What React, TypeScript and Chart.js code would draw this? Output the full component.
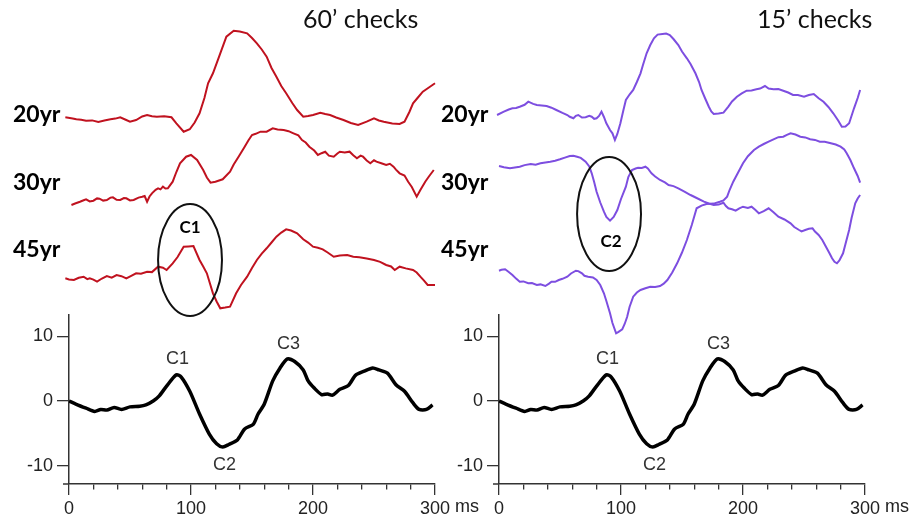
import React, { useEffect, useRef } from 'react';
import { Chart, registerables } from 'chart.js';

Chart.register(...registerables);

// ---------- data ----------
const TIME_TICKS = [0, 20, 40, 60, 80, 100, 120, 140, 160, 180, 200, 220, 240, 260, 280, 300];
const AMP_TICKS = [-10, 0, 10];
const AGE_LABELS = ['20yr', '30yr', '45yr'];
const PANEL_TITLES = ['60\u2019 checks', '15\u2019 checks'];

// grand-average waveform (µV vs ms), same in both panels
const GRAND_AVG: [number, number][] = [
  [0, 0], [6, -0.5], [14, -1.1], [21, -1.6], [26, -1.3], [31, -1.4], [37, -1.0], [43, -1.3], [50, -0.9],
  [58, -0.8], [63, -0.6], [69, 0], [74, 0.8], [80, 2.3], [88, 4.05], [92, 3.7], [99, 1.5], [107, -2.0],
  [115, -5.1], [121, -6.6], [126, -7.1], [131, -6.7], [138, -6.0], [144, -4.3], [151, -3.6], [155, -2.0],
  [160, -0.5], [167, 3.1], [173, 5.1], [179, 6.5], [185, 6.1], [192, 4.8], [196, 3.1], [201, 2.0],
  [207, 1.0], [212, 1.1], [216, 0.9], [222, 1.8], [229, 2.4], [235, 4.0], [242, 4.6], [249, 5.1],
  [254, 4.8], [261, 4.3], [268, 2.5], [275, 1.5], [282, -0.3], [287, -1.3], [293, -1.3], [298, -0.6],
];
const PEAK_LABELS = ['C1', 'C2', 'C3'];
const PEAK_LABEL_T = [89, 127.5, 180];
const PEAK_LABEL_V = [5.65, -10.7, 8.1];

// individual traces (offset amplitude, a.u.) — 60' checks
const LEFT_20YR: [number, number][] = [
  [-3, 202.7], [3, 201.5], [6, 200.7], [10, 200.2], [14, 199.3], [19, 199.6], [24, 198], [29, 199.5], [34, 200.7],
  [38, 201.4], [42, 202.7], [46, 200.5], [50, 198.3], [55, 200], [60, 203.5],
  [64, 205], [68, 203.8], [72, 203.3], [78, 203.8], [84, 202.7], [88, 196.7], [94, 188.3], [99, 190.7], [103, 197.5], [107, 206.7], [111, 222], [114, 236.7],
  [118, 246.7], [124, 266.7], [129, 283.3], [135, 289.3], [140, 288.5], [146, 286.7], [150, 282], [154, 276.7], [158, 270.5], [162, 263.3],
  [166, 252], [170, 243.3], [174, 234], [178, 226.7], [183, 217], [187, 210], [192, 203.3], [196, 204], [200, 205], [206, 207.3], [210, 206], [214, 205], [219, 202.5], [225, 200],
  [231, 197], [237, 195], [244, 198.3], [250, 201.7], [254, 199.5], [258, 198.3], [265, 196.5], [271, 196], [275, 198.3], [279, 208], [282, 216.7],
  [286, 222.5], [290, 228.3], [295, 232.5], [300, 236.7],
];
const LEFT_30YR: [number, number][] = [
  [2, 115], [5, 116.5], [9, 118.3], [12, 119.8], [14, 120.7], [17, 118.6], [20, 119.3], [23, 121.6], [25, 121.3], [28, 119.4], [31, 120], [34, 122.4], [36, 122.7], [39, 120.2], [42, 120],
  [45, 122], [47, 121.7], [50, 119.6], [53, 120], [57, 122.4], [60, 123.3], [62, 124], [64, 118.3], [66, 123.5], [68, 126.7], [71, 130.2], [73, 131.7], [75, 130.6], [77, 133.3], [79, 131.5], [81, 131.7],
  [85, 138.3], [88, 148], [91, 156.7], [96, 163.3], [100, 165], [105, 160], [110, 150], [113, 142.5], [116, 137.3], [120, 138.3],
  [126, 140.7], [132, 148.3], [135, 155.5], [139, 163.3], [144, 173.3], [147, 179.5], [150, 185], [153, 186.2], [157, 188.3], [162, 188.3],
  [167, 191.7], [171, 190.5], [176, 190], [180, 188.8], [184, 186.7], [188, 184.6], [191, 180], [194, 177.5], [197, 173.3], [201, 169.5], [204, 165], [207, 166.8], [210, 168.3], [213, 164.3],
  [217, 163.3], [220, 166.5], [222, 168.3], [226, 167.4], [230, 168.3], [233, 164.7], [236, 161.7], [239, 164.4], [241, 163.3], [244, 159.5], [247, 156.7], [250, 159.7], [252, 158.3],
  [256, 156.8], [260, 155], [263, 156.2], [266, 153.3], [268, 150.4], [271, 146.7], [275, 144.5], [278, 138.3], [281, 133], [285, 123.3], [288, 130], [292, 138.3], [295, 143.5], [299, 150],
];
const LEFT_45YR: [number, number][] = [
  [-3, 41.7], [0, 40.6], [4, 40], [8, 42.2], [12, 43.3], [15, 40.8], [17, 41.7], [20, 40.4], [23, 38.3], [27, 41.5], [31, 44], [35, 42.3], [39, 45], [43, 43.8], [47, 41.7], [51, 44.2], [55, 46.7],
  [59, 46.2], [64, 48.3], [68, 47.9], [73, 53.3], [77, 52.3], [80, 50], [85, 56.7], [89, 63], [94, 73.3], [98, 73.6], [102, 74], [107, 60], [110, 53.5], [113, 46.7],
  [118, 26.7], [121, 18.5], [124, 11.7], [128, 12.4], [132, 13.3], [137, 26.7], [141, 35], [146, 43.3], [150, 52], [154, 60], [158, 66.4], [162, 71.7], [166, 77.5], [170, 83.3],
  [174, 87.4], [178, 90.7], [182, 89.5], [187, 86.7], [192, 80.7], [196, 77.4], [200, 73.3], [204, 72.2], [208, 70.7], [212, 67.5], [217, 63.3], [222, 64.6], [228, 65], [233, 63.2], [238, 62.7],
  [244, 61.5], [250, 60], [255, 58.1], [260, 55], [264, 53.5], [267, 50], [271, 53.3], [276, 51.6], [282, 50], [285, 47.5], [288, 43.3], [291, 39.4], [294, 35], [300, 35],
];

// individual traces — 15' checks
const RIGHT_20YR: [number, number][] = [
  [-1.6, 205], [4, 208.3], [8, 210.5], [11, 211.7], [14, 212.1], [17, 213.3], [21, 215.2], [24, 218.3], [28, 216.1], [31, 215], [35, 214.6], [39, 214], [43, 212.3], [47, 210],
  [52, 207.1], [56, 205], [58, 203.2], [61, 201.7], [63, 204.2], [65, 205], [68, 202.5], [71, 202.7], [74, 204.1], [76, 203.3], [78, 201.2], [80, 201.7], [82, 204], [84, 208.3], [86, 203], [88, 196.7],
  [91, 190], [93, 186.7], [95, 180], [97, 186], [99.5, 196.7], [102, 210], [104, 220], [107, 225.5], [110, 230], [113, 238], [116, 246.7], [118, 255], [121, 266.7], [124, 275], [127, 281.7],
  [130, 285.4], [134, 286], [137, 286.4], [140, 285], [143, 281], [147, 275], [150, 268.5], [154, 261.7], [157, 256], [161, 246.7], [164, 238], [166, 230], [169, 221.5], [172, 213.3], [174, 208.5], [176, 206],
  [180, 206.4], [184, 207.3], [188, 213.3], [191, 218.5], [195, 223.3], [199, 226.6], [203, 229.3], [207, 229.6], [211, 230.7], [214, 231.4], [218, 234], [221, 231.5], [225, 230.7], [229, 230.9],
  [233, 229.3], [237, 227.5], [241, 225], [245, 224.9], [250, 223.3], [254, 225], [258, 226], [262, 221.8], [266, 218.3], [270, 213], [274, 206.7], [278, 199.5], [281, 193.3],
  [284, 193.5], [287, 196.7], [291, 211.7], [294, 222], [296, 230],
];
const RIGHT_30YR: [number, number][] = [
  [0, 154], [4, 152.8], [9, 151.7], [13, 152.6], [17, 153.3], [21, 154.9], [26, 156], [30, 155.3], [34, 156.7], [38, 157.6], [42, 158.3], [46, 159.2], [50, 160.7], [54, 162.4], [58, 164],
  [61, 164.3], [64, 163.3], [67, 162.1], [71, 158.3], [74, 153.5], [76, 146.7], [78, 138], [80, 128.3], [83, 117.5], [86, 108.3], [88, 103], [91, 99.3], [94, 103], [97, 110], [100, 121], [104, 133.3],
  [106, 143], [109, 150], [112, 151.5], [114, 152.3], [117, 152.1], [120, 153.3], [122, 151.5], [125, 146.7], [128, 143.5], [132, 140], [136, 137.6], [139, 135], [143, 133.9], [147, 131.7], [152, 128.4], [157, 125],
  [162, 122], [168, 118.3], [172, 116.5], [176, 115], [180, 115.4], [184, 117.3], [186, 114], [188, 111.7], [191, 110.8], [194, 109.3], [197, 111.6], [200, 113.3], [204, 112], [207, 113.3], [210, 110.2],
  [213, 106.7], [217, 108.8], [221, 111.7], [225, 107.8], [229, 103.3], [234, 100.5], [239, 96.7], [242, 93], [246, 90], [248, 88.6], [251, 90], [254, 91.2], [257, 91.7], [259, 88.5], [262, 85],
  [265, 80], [268, 73.3], [271, 66.5], [273, 61.7], [275, 58.2], [277, 56.7], [279, 59.5], [282, 66.7], [284, 76], [287, 90], [289, 102], [292, 116.7], [294, 121.5], [296, 125],
];
const RIGHT_45YR: [number, number][] = [
  [0, 49.3], [2, 50.2], [5, 50.7], [8, 48], [11, 45], [14, 41.4], [17, 38.3], [20, 38.6], [24, 36.7], [27, 36.9], [31, 35], [34, 35.6], [38, 34], [41, 36.4], [43, 38.3], [46, 38.2], [49, 40],
  [52, 41.2], [56, 43.3], [59, 46.5], [63, 49.3], [65, 48.9], [68, 46.7], [70, 44.2], [73, 43.3], [77, 42.5], [80, 40], [83, 35], [86, 26.7], [88, 19], [91, 6.7], [93, -3], [96, -13.3],
  [98, -11.8], [101, -9.3], [103, -4], [105, 3], [107, 13], [110, 23.3], [113, 27.5], [116, 30], [120, 31.7], [124, 33.3], [128, 33.1], [132, 34], [135, 36.3], [138, 40], [142, 47.5], [146, 56.7],
  [150, 67.5], [154, 80], [158, 95], [162, 111.7], [166, 114.4], [170, 116], [176, 116.4], [181, 118.3], [184, 119.6], [187, 123.3], [189, 130], [192, 138.3], [196, 147.5], [200, 156.7],
  [204, 163.8], [209, 170], [213, 173.4], [217, 176], [221, 178.4], [225, 180.7], [229, 182.8], [233, 183.3], [236, 185.2], [239, 186.7], [243, 185.5], [247, 183.3], [251, 182.6], [255, 180.7],
  [259, 180.1], [263, 178.3], [267, 178.2], [272, 176.7], [276, 175.5], [280, 173.3], [283, 170.5], [285, 166.7], [288, 160], [291, 151.7], [294, 144], [296, 137.3],
];

const RED = '#c0121f';
const PURPLE = '#7d4ee0';

// ---------- chart builders ----------
type TopCfg = {
  traces: [number, number][][];
  color: string;
  title: string;
  titleX: number;
  labelX: number;
  ellipse: { t: number; v: number; rt: number; rv: number };
  circled: { text: string; t: number; v: number };
};

function makeTopChart(canvas: HTMLCanvasElement, cfg: TopCfg) {
  const overlay = {
    id: 'topOverlay',
    afterDatasetsDraw(chart: any) {
      const { ctx } = chart;
      const x = chart.scales.x;
      const y = chart.scales.y;
      ctx.save();
      ctx.fillStyle = '#000';
      ctx.font = 'bold 23px Lato';
      ctx.textAlign = 'left';
      ctx.textBaseline = 'alphabetic';
      const baselines = [122, 190, 257];
      AGE_LABELS.forEach((lab, i) => ctx.fillText(lab, cfg.labelX, baselines[i]));
      ctx.fillStyle = '#111';
      ctx.font = '25px Lato';
      ctx.fillText(cfg.title, cfg.titleX, 28);
      // ellipse
      const e = cfg.ellipse;
      const cx = x.getPixelForValue(e.t);
      const cy = y.getPixelForValue(e.v);
      const rx = Math.abs(x.getPixelForValue(e.t + e.rt) - cx);
      const ry = Math.abs(y.getPixelForValue(e.v + e.rv) - cy);
      ctx.beginPath();
      ctx.ellipse(cx, cy, rx, ry, 0, 0, Math.PI * 2);
      ctx.lineWidth = 2;
      ctx.strokeStyle = '#111';
      ctx.stroke();
      ctx.font = 'bold 17px Lato';
      ctx.textAlign = 'center';
      ctx.fillStyle = '#000';
      ctx.fillText(cfg.circled.text, x.getPixelForValue(cfg.circled.t), y.getPixelForValue(cfg.circled.v));
      ctx.restore();
    },
  };
  return new Chart(canvas, {
    type: 'line',
    data: {
      datasets: cfg.traces.map((tr, i) => ({
        label: AGE_LABELS[i],
        data: tr.map(([t, v]) => ({ x: t, y: v })),
        borderColor: cfg.color,
        borderWidth: 2,
        pointRadius: 0,
        tension: 0,
        fill: false,
      })),
    },
    options: {
      animation: false,
      responsive: false,
      devicePixelRatio: 1,
      events: [],
      layout: { padding: { left: 56.8, right: 39.8, top: 0, bottom: 0 } },
      plugins: { legend: { display: false }, tooltip: { enabled: false } },
      scales: {
        x: { type: 'linear', min: -10, max: 310, display: false },
        y: { type: 'linear', min: -30, max: 320, display: false },
      },
    },
    plugins: [overlay],
  } as any);
}

function makeBottomChart(canvas: HTMLCanvasElement, yAxisWidth: number, padRight: number) {
  const tickFont = { family: 'Liberation Sans', size: 18 };
  const X_TICK_LEN = 11;
  const X_TICK_PAD = 3;
  const overlay = {
    id: 'bottomOverlay',
    afterDraw(chart: any) {
      const { ctx } = chart;
      const x = chart.scales.x;
      const y = chart.scales.y;
      ctx.save();
      // x axis line extends slightly left of the y axis
      ctx.strokeStyle = '#333';
      ctx.lineWidth = 1.5;
      ctx.beginPath();
      ctx.moveTo(chart.chartArea.left - 6, chart.chartArea.bottom);
      ctx.lineTo(chart.chartArea.left, chart.chartArea.bottom);
      ctx.stroke();
      ctx.font = '18px "Liberation Sans"';
      // unit after the last tick label
      const lastX = x.getPixelForValue(300);
      const w = ctx.measureText('300').width;
      ctx.textAlign = 'left';
      ctx.textBaseline = 'top';
      ctx.fillStyle = '#222';
      ctx.fillText(' ms', lastX + w / 2, x.top + X_TICK_LEN + X_TICK_PAD);
      // peak labels
      ctx.textAlign = 'center';
      ctx.textBaseline = 'alphabetic';
      ctx.fillStyle = '#333';
      PEAK_LABELS.forEach((lab, i) => {
        ctx.fillText(lab, x.getPixelForValue(PEAK_LABEL_T[i]), y.getPixelForValue(PEAK_LABEL_V[i]));
      });
      ctx.restore();
    },
  };
  return new Chart(canvas, {
    type: 'line',
    data: {
      datasets: [
        {
          label: 'grand average',
          data: GRAND_AVG.map(([t, v]) => ({ x: t, y: v })),
          borderColor: '#000',
          borderWidth: 3.5,
          pointRadius: 0,
          tension: 0.25,
          fill: false,
        },
      ],
    },
    options: {
      animation: false,
      responsive: false,
      devicePixelRatio: 1,
      events: [],
      layout: { padding: { left: 0, right: padRight, top: 13, bottom: 0 } },
      plugins: { legend: { display: false }, tooltip: { enabled: false } },
      scales: {
        x: {
          type: 'linear',
          min: 0,
          max: 300,
          afterBuildTicks: (s: any) => {
            s.ticks = TIME_TICKS.map((v) => ({ value: v }));
          },
          afterFit: (s: any) => {
            s.height = 35;
          },
          border: { display: true, color: '#333', width: 1.5 },
          grid: {
            drawOnChartArea: false,
            drawTicks: true,
            tickLength: X_TICK_LEN,
            color: '#333',
            lineWidth: 1.3,
            tickBorderDash: (c: any) => (c.tick && c.tick.value % 100 === 0 ? [] : [5, 40]),
          },
          ticks: {
            autoSkip: false,
            maxRotation: 0,
            padding: X_TICK_PAD,
            color: '#222',
            font: tickFont,
            callback: (v: any) => (Number(v) % 100 === 0 ? String(v) : ''),
          },
        },
        y: {
          type: 'linear',
          min: -12.8,
          max: 13.3,
          afterBuildTicks: (s: any) => {
            s.ticks = AMP_TICKS.map((v) => ({ value: v }));
          },
          afterFit: (s: any) => {
            s.width = yAxisWidth;
          },
          border: { display: true, color: '#333', width: 1.5 },
          grid: { drawOnChartArea: false, drawTicks: true, tickLength: 12, color: '#333', lineWidth: 1.3 },
          ticks: { padding: 4, color: '#222', font: tickFont },
        },
      },
    },
    plugins: [overlay],
  } as any);
}

export default function App() {
  const topL = useRef<HTMLCanvasElement>(null);
  const topR = useRef<HTMLCanvasElement>(null);
  const botL = useRef<HTMLCanvasElement>(null);
  const botR = useRef<HTMLCanvasElement>(null);

  useEffect(() => {
    const charts = [
      makeBottomChart(botL.current!, 69, 55),
      makeBottomChart(botR.current!, 59, 52),
      makeTopChart(topL.current!, {
        traces: [LEFT_20YR, LEFT_30YR, LEFT_45YR],
        color: RED,
        title: PANEL_TITLES[0],
        titleX: 303,
        labelX: 13,
        ellipse: { t: 99.2, v: 60, rt: 26.2, rv: 56 },
        circled: { text: 'C1', t: 99.2, v: 87 },
      }),
      makeTopChart(topR.current!, {
        traces: [RIGHT_20YR, RIGHT_30YR, RIGHT_45YR],
        color: PURPLE,
        title: PANEL_TITLES[1],
        titleX: 327,
        labelX: 11,
        ellipse: { t: 90.2, v: 106, rt: 26.2, rv: 57 },
        circled: { text: 'C2', t: 91.8, v: 73 },
      }),
    ];
    return () => charts.forEach((c) => c.destroy());
  }, []);

  const abs = (left: number, top: number, w: number, h: number): React.CSSProperties => ({
    position: 'absolute',
    left,
    top,
    width: w,
    height: h,
  });

  return (
    <div style={{ position: 'fixed', left: 0, top: 0, width: 917, height: 519, background: '#fff', overflow: 'hidden' }}>
      <canvas ref={botL} width={490} height={219} style={abs(0, 300, 490, 219)} />
      <canvas ref={botR} width={477} height={219} style={abs(440, 300, 477, 219)} />
      <canvas ref={topL} width={487} height={350} style={abs(0, 0, 487, 350)} />
      <canvas ref={topR} width={487} height={350} style={abs(430, 0, 487, 350)} />
    </div>
  );
}
